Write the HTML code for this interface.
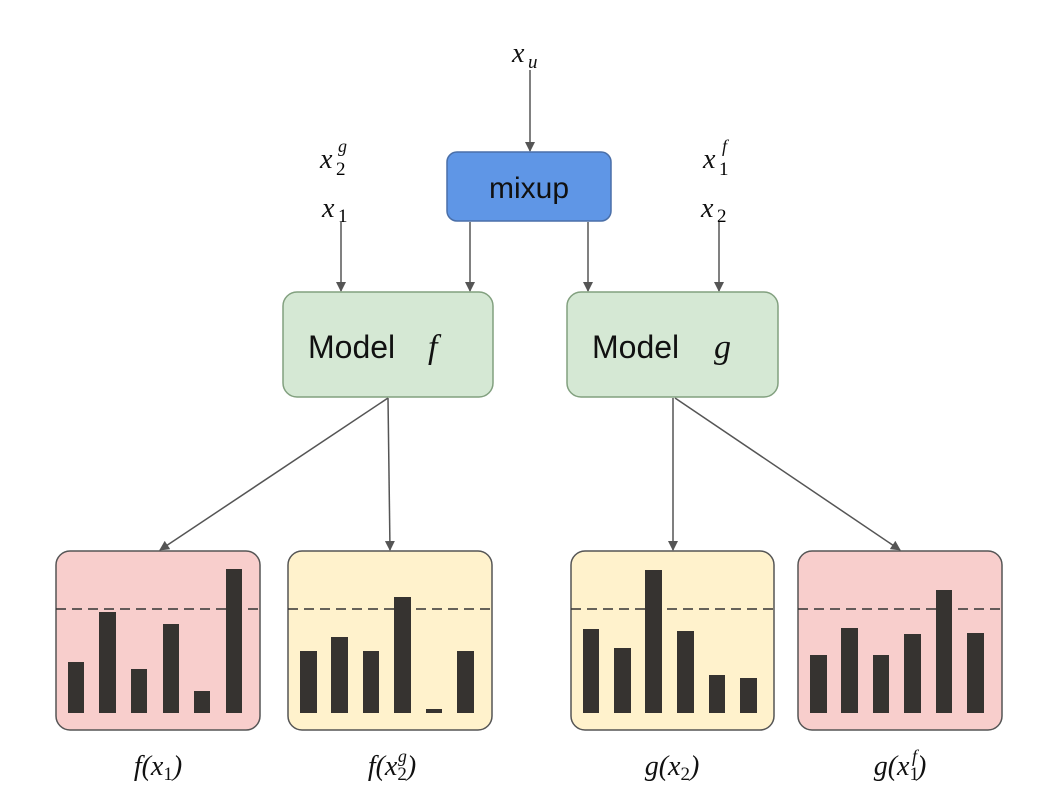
<!DOCTYPE html>
<html><head><meta charset="utf-8"><style>
html,body{margin:0;padding:0;background:#fff;}
svg{display:block;}
.m{font-family:"Liberation Serif",serif;font-style:italic;fill:#111;}
.s{font-family:"Liberation Sans",sans-serif;fill:#111;}
</style></head><body>
<svg width="1046" height="807" viewBox="0 0 1046 807" xmlns="http://www.w3.org/2000/svg">
<defs>
<marker id="a" markerWidth="10" markerHeight="10" refX="9" refY="5" orient="auto" markerUnits="userSpaceOnUse" viewBox="0 0 10 10">
<path d="M0,0 L10,5 L0,10 z" fill="#555"/></marker>
</defs>
<g stroke="#555" stroke-width="1.5" fill="none" marker-end="url(#a)">
<line x1="530" y1="70" x2="530" y2="151"/>
<line x1="470" y1="222" x2="470" y2="291"/>
<line x1="588" y1="222" x2="588" y2="291"/>
<line x1="341" y1="222" x2="341" y2="291"/>
<line x1="719" y1="222" x2="719" y2="291"/>
<line x1="388" y1="398" x2="160" y2="550"/>
<line x1="388" y1="398" x2="390" y2="550"/>
<line x1="673" y1="398" x2="673" y2="550"/>
<line x1="675" y1="398" x2="900" y2="550"/>
</g>
<rect x="447" y="152" width="164" height="69" rx="10" fill="#5f96e6" stroke="#4a6fa8" stroke-width="1.5"/>
<text x="529" y="198" text-anchor="middle" class="s" font-size="30">mixup</text>
<rect x="283" y="292" width="210" height="105" rx="14" fill="#d5e8d4" stroke="#82a07f" stroke-width="1.5"/>
<text x="308" y="358" class="s" font-size="32">Model</text><text x="428" y="358" class="m" font-size="34">f</text>
<rect x="567" y="292" width="211" height="105" rx="14" fill="#d5e8d4" stroke="#82a07f" stroke-width="1.5"/>
<text x="592" y="358" class="s" font-size="32">Model</text><text x="714" y="358" class="m" font-size="34">g</text>

<text x="512" y="62" class="m" font-size="28">x</text><text x="528" y="68" class="m" font-size="19">u</text>
<text x="320" y="168" class="m" font-size="28">x</text><text x="336" y="175" font-family="Liberation Serif" font-size="19">2</text><text x="338" y="152" class="m" font-size="18">g</text>
<text x="322" y="217" class="m" font-size="28">x</text><text x="338" y="222" font-family="Liberation Serif" font-size="19">1</text>
<text x="703" y="168" class="m" font-size="28">x</text><text x="719" y="175" font-family="Liberation Serif" font-size="19">1</text><text x="722" y="152" class="m" font-size="18">f</text>
<text x="701" y="217" class="m" font-size="28">x</text><text x="717" y="222" font-family="Liberation Serif" font-size="19">2</text>

<g stroke="#555" stroke-width="1.5">
<rect x="56" y="551" width="204" height="179" rx="14" fill="#f8cecc"/>
<rect x="288" y="551" width="204" height="179" rx="14" fill="#fff2cc"/>
<rect x="571" y="551" width="203" height="179" rx="14" fill="#fff2cc"/>
<rect x="798" y="551" width="204" height="179" rx="14" fill="#f8cecc"/>
</g>
<g stroke="#333" stroke-width="1.5" stroke-dasharray="10,6">
<line x1="56" y1="609" x2="260" y2="609"/>
<line x1="288" y1="609" x2="492" y2="609"/>
<line x1="571" y1="609" x2="774" y2="609"/>
<line x1="798" y1="609" x2="1002" y2="609"/>
</g>
<g fill="#363330">
<rect x="68" y="662" width="16" height="51"/><rect x="99" y="612" width="17" height="101"/><rect x="131" y="669" width="16" height="44"/><rect x="163" y="624" width="16" height="89"/><rect x="194" y="691" width="16" height="22"/><rect x="226" y="569" width="16" height="144"/>
<rect x="300" y="651" width="17" height="62"/><rect x="331" y="637" width="17" height="76"/><rect x="363" y="651" width="16" height="62"/><rect x="394" y="597" width="17" height="116"/><rect x="426" y="709" width="16" height="4"/><rect x="457" y="651" width="17" height="62"/>
<rect x="583" y="629" width="16" height="84"/><rect x="614" y="648" width="17" height="65"/><rect x="645" y="570" width="17" height="143"/><rect x="677" y="631" width="17" height="82"/><rect x="709" y="675" width="16" height="38"/><rect x="740" y="678" width="17" height="35"/>
<rect x="810" y="655" width="17" height="58"/><rect x="841" y="628" width="17" height="85"/><rect x="873" y="655" width="16" height="58"/><rect x="904" y="634" width="17" height="79"/><rect x="936" y="590" width="16" height="123"/><rect x="967" y="633" width="17" height="80"/>
</g>
<text x="158" y="775" text-anchor="middle" class="m" font-size="28">f(x<tspan font-style="normal" font-size="19" dy="5">1</tspan><tspan dy="-5">)</tspan></text>
<text x="392" y="775" text-anchor="middle" class="m" font-size="28">f(x<tspan font-style="normal" font-size="19" dy="5">2</tspan><tspan font-size="18" dx="-9" dy="-18">g</tspan><tspan dy="13">)</tspan></text>
<text x="672" y="775" text-anchor="middle" class="m" font-size="28">g(x<tspan font-style="normal" font-size="19" dy="5">2</tspan><tspan dy="-5">)</tspan></text>
<text x="900" y="775" text-anchor="middle" class="m" font-size="28">g(x<tspan font-style="normal" font-size="19" dy="5">1</tspan><tspan font-size="18" dx="-7" dy="-18">f</tspan><tspan dy="13">)</tspan></text>
</svg>
</body></html>
